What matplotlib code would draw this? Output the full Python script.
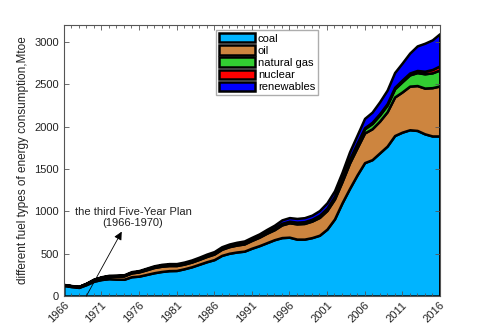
import matplotlib
matplotlib.use("Agg")
import matplotlib.pyplot as plt
import numpy as np

plt.rcParams['font.family'] = ['Liberation Sans', 'DejaVu Sans']

years = list(range(1966, 2017))

coal = [125, 112, 102, 135, 175, 195, 205, 200, 198, 228,
        235, 255, 275, 290, 300, 302, 322, 345, 375, 405,
        430, 480, 505, 520, 530, 565, 595, 630, 665, 690,
        695, 672, 672, 690, 718, 790, 910, 1100, 1270, 1430,
        1575, 1610, 1690, 1770, 1895, 1935, 1963, 1955, 1915, 1890,
        1890]
oil = [8, 8, 9, 12, 18, 25, 30, 35, 40, 45,
       50, 55, 62, 62, 60, 58, 55, 56, 58, 62,
       66, 72, 78, 82, 85, 92, 100, 112, 118, 150,
       170, 180, 185, 195, 210, 220, 235, 250, 300, 320,
       350, 365, 375, 405, 455, 475, 515, 530, 540, 570,
       590]
gas = [1, 1, 1, 2, 3, 3, 4, 5, 6, 7,
       8, 10, 11, 12, 12, 11, 10, 10, 10, 11,
       12, 12, 12, 13, 13, 14, 14, 15, 15, 16,
       16, 17, 18, 19, 22, 24, 26, 30, 36, 42,
       50, 62, 72, 80, 97, 121, 133, 153, 169, 175,
       189]
nuclear = [0, 0, 0, 0, 0, 0, 0, 0, 0, 0,
           0, 0, 0, 0, 0, 0, 0, 0, 0, 0,
           0, 0, 0, 0, 0, 0, 0, 0, 3, 3,
           3, 3, 3, 3, 4, 4, 6, 10, 11, 12,
           12, 14, 16, 16, 17, 20, 22, 25, 30, 39,
           48]
renewables = [3, 3, 3, 3, 4, 5, 6, 7, 7, 8,
              8, 9, 9, 10, 11, 12, 14, 15, 16, 17,
              17, 18, 19, 20, 22, 22, 25, 30, 35, 40,
              42, 44, 47, 48, 55, 63, 66, 70, 85, 95,
              110, 120, 140, 160, 175, 200, 235, 290, 330, 350,
              380]

labels = ['coal', 'oil', 'natural gas', 'nuclear', 'renewables']
colors = ['#00B4FF', '#CD853F', '#32CD32', '#FF0000', '#0000FF']
xtick_years = [1966, 1971, 1976, 1981, 1986, 1991, 1996, 2001, 2006, 2011, 2016]
ytick_vals = [0, 500, 1000, 1500, 2000, 2500, 3000]
annot_text = 'the third Five-Year Plan\n(1966-1970)'

fig = plt.figure(figsize=(4.87, 3.33), dpi=100)
ax = fig.add_axes([0.131, 0.111, 0.772, 0.814])

ax.stackplot(years, coal, oil, gas, nuclear, renewables,
             colors=colors, labels=labels,
             edgecolor='black', linewidth=1.8)

ax.set_xlim(1966, 2016)
ax.set_ylim(0, 3200)
ax.set_xticks(xtick_years)
ax.set_xticks(years, minor=True)
ax.set_yticks(ytick_vals)
ax.set_xticklabels([str(y) for y in xtick_years], rotation=45, ha='right',
                   va='top', rotation_mode='anchor', fontsize=8, color='#222222')
ax.set_yticklabels([str(v) for v in ytick_vals], fontsize=8, color='#222222')

ax.tick_params(axis='both', which='both', direction='in', top=True, right=True,
               color='#555555')
ax.tick_params(axis='both', which='major', length=3.5, width=0.6)
ax.tick_params(axis='x', which='minor', length=2, width=0.6)
ax.tick_params(axis='x', which='major', pad=3)
for s in ax.spines.values():
    s.set_color('#555555')
    s.set_linewidth(0.8)

ax.set_ylabel('different fuel types of energy consumption,Mtoe', fontsize=8.5,
              color='#222222', labelpad=4)

# arrow
ax.annotate('', xy=(1973.7, 760), xytext=(1969.0, 0),
            arrowprops=dict(arrowstyle='-|>', color='black', lw=0.6,
                            mutation_scale=12, shrinkA=0, shrinkB=0))
ax.text(1975.2, 925, annot_text, fontsize=8, color='#222222',
        ha='center', va='center', linespacing=1.1)

leg = ax.legend(loc='upper left', bbox_to_anchor=(0.404, 0.982),
                borderaxespad=0, fontsize=8, frameon=True, fancybox=False,
                edgecolor='#999999', handlelength=3.2, handleheight=0.9,
                labelspacing=0.15, handletextpad=0.3, borderpad=0.3)
leg.get_frame().set_linewidth(1.0)

fig.savefig('out.png', dpi=100)
